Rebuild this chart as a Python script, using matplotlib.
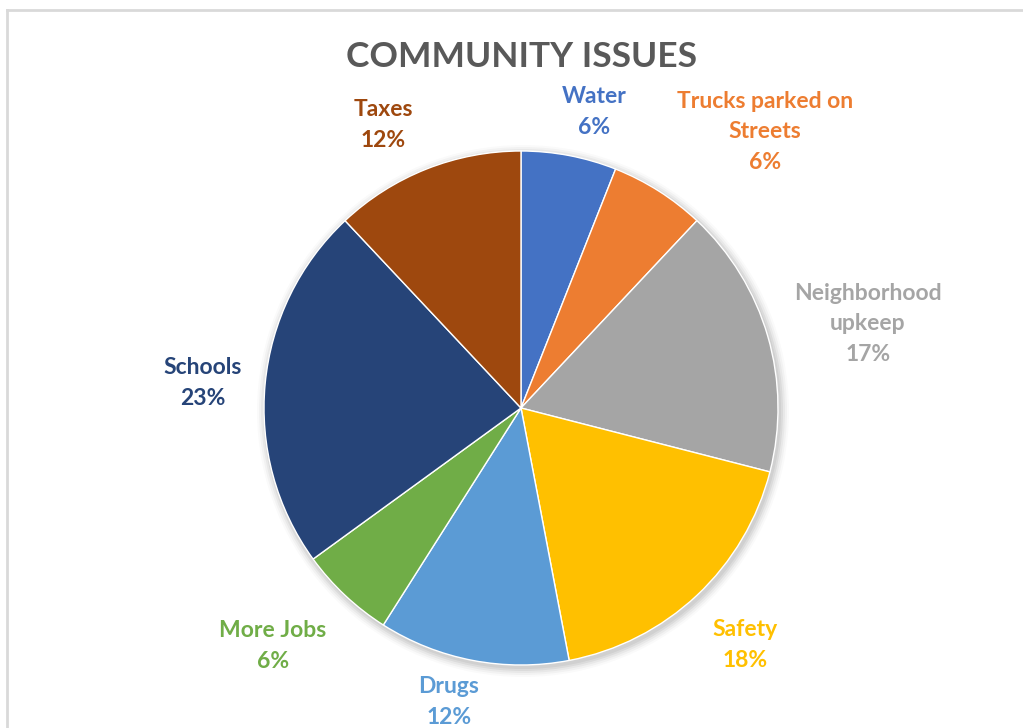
import matplotlib.pyplot as plt
from matplotlib.patches import Circle
from matplotlib.lines import Line2D

# survey results, share of responses in percent
issues = ["Water", "Trucks parked on\nStreets", "Neighborhood\nupkeep", "Safety",
          "Drugs", "More Jobs", "Schools", "Taxes"]
shares = [6, 6, 17, 18, 12, 6, 23, 12]
colors = ["#4472C4", "#ED7D31", "#A5A5A5", "#FFC000",
          "#5B9BD5", "#70AD47", "#264478", "#9E480E"]

# label anchor points (pixels from top-left)
label_xy = [(594, 112), (765, 132), (868, 324), (745, 645),
            (449, 702), (273, 646), (203, 383), (383, 125)]

W, H = 1023, 728
CX, CY, R = 521, 408, 257

plt.rcParams['font.family'] = ['Lato', 'DejaVu Sans']

fig = plt.figure(figsize=(W / 100, H / 100), dpi=100)
ax = fig.add_axes([0, 0, 1, 1])

# soft shadow behind the pie
for i, a in enumerate([0.05, 0.05, 0.04, 0.03, 0.02]):
    ax.add_patch(Circle((CX + 2, H - CY - 3), R + 1 + i * 2, color='black',
                        alpha=a, lw=0, zorder=0))

ax.pie(shares, colors=colors, startangle=90, counterclock=False,
       center=(CX, H - CY), radius=R, frame=True,
       wedgeprops=dict(linewidth=1.0, edgecolor='white'))
ax.set_xlim(0, W)
ax.set_ylim(0, H)
ax.set_aspect('equal')
ax.axis('off')

for name, val, col, (x, y) in zip(issues, shares, colors, label_xy):
    ax.text(x, H - y, f"{name}\n{val}%", color=col, fontsize=16.5,
            fontweight='bold', ha='center', va='center', linespacing=1.55)

ax.text(CX, H - 57, "COMMUNITY ISSUES", color="#595959", fontsize=25.5,
        fontweight='bold', ha='center', va='center')

# chart area frame, clipped at right and bottom
fig.add_artist(Line2D([7 / W, 1], [1 - 10 / H, 1 - 10 / H], color='#D9D9D9', lw=2))
fig.add_artist(Line2D([7 / W, 7 / W], [0, 1 - 10 / H], color='#D9D9D9', lw=2))

fig.savefig("out.png", dpi=100, facecolor='white')
